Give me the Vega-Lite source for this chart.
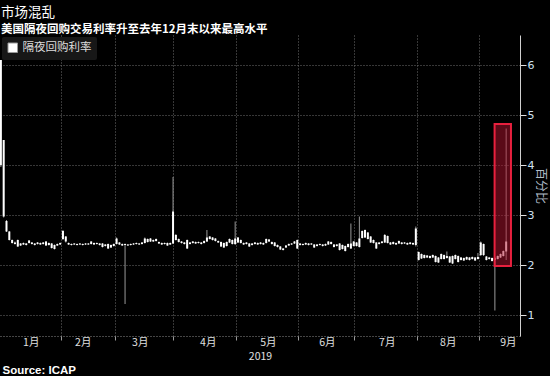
{
  "$schema": "https://vega.github.io/schema/vega-lite/v6.json",
  "width": 520,
  "height": 301,
  "autosize": "none",
  "padding": {"left": 0, "top": 35, "right": 30, "bottom": 40},
  "background": "#000000",
  "config": {"view": {"stroke": null}, "font": "Noto Sans CJK SC"},
  "title": {
    "text": "市场混乱",
    "subtitle": "美国隔夜回购交易利率升至去年12月末以来最高水平",
    "anchor": "start",
    "frame": "group",
    "font": "Noto Sans CJK SC",
    "fontSize": 13.5,
    "fontWeight": "normal",
    "color": "#ffffff",
    "subtitleFont": "Noto Sans CJK SC",
    "subtitleFontSize": 11.5,
    "subtitleFontWeight": "bold",
    "subtitleColor": "#ffffff",
    "subtitlePadding": 4,
    "offset": 0,
    "dx": 1
  },
  "data": {
    "values": [
      {"i":0,"o":4.0,"c":6.1,"h":6.1,"l":3.96},
      {"i":1,"o":4.5,"c":2.97,"h":4.5,"l":2.95},
      {"i":2,"o":2.88,"c":2.67,"h":2.9,"l":2.66},
      {"i":3,"o":2.67,"c":2.5,"h":2.68,"l":2.49},
      {"i":4,"o":2.5,"c":2.44,"h":2.51,"l":2.43},
      {"i":5,"o":2.45,"c":2.42,"h":2.47,"l":2.41},
      {"i":6,"o":2.5,"c":2.37,"h":2.51,"l":2.36},
      {"i":7,"o":2.43,"c":2.39,"h":2.44,"l":2.38},
      {"i":8,"o":2.41,"c":2.44,"h":2.45,"l":2.4},
      {"i":9,"o":2.43,"c":2.4,"h":2.44,"l":2.39},
      {"i":10,"o":2.44,"c":2.49,"h":2.5,"l":2.43},
      {"i":11,"o":2.45,"c":2.42,"h":2.46,"l":2.41},
      {"i":12,"o":2.43,"c":2.4,"h":2.44,"l":2.39},
      {"i":13,"o":2.42,"c":2.45,"h":2.46,"l":2.41},
      {"i":14,"o":2.44,"c":2.41,"h":2.45,"l":2.4},
      {"i":15,"o":2.42,"c":2.45,"h":2.46,"l":2.41},
      {"i":16,"o":2.39,"c":2.47,"h":2.48,"l":2.38},
      {"i":17,"o":2.44,"c":2.4,"h":2.45,"l":2.39},
      {"i":18,"o":2.43,"c":2.34,"h":2.44,"l":2.33},
      {"i":19,"o":2.4,"c":2.32,"h":2.41,"l":2.31},
      {"i":20,"o":2.39,"c":2.42,"h":2.43,"l":2.38},
      {"i":21,"o":2.41,"c":2.44,"h":2.45,"l":2.4},
      {"i":22,"o":2.52,"c":2.68,"h":2.7,"l":2.5},
      {"i":23,"o":2.57,"c":2.47,"h":2.58,"l":2.45},
      {"i":24,"o":2.44,"c":2.41,"h":2.45,"l":2.4},
      {"i":25,"o":2.42,"c":2.4,"h":2.43,"l":2.39},
      {"i":26,"o":2.41,"c":2.43,"h":2.44,"l":2.4},
      {"i":27,"o":2.42,"c":2.4,"h":2.43,"l":2.39},
      {"i":28,"o":2.41,"c":2.43,"h":2.44,"l":2.4},
      {"i":29,"o":2.42,"c":2.4,"h":2.43,"l":2.39},
      {"i":30,"o":2.41,"c":2.43,"h":2.44,"l":2.4},
      {"i":31,"o":2.43,"c":2.41,"h":2.44,"l":2.4},
      {"i":32,"o":2.42,"c":2.47,"h":2.48,"l":2.41},
      {"i":33,"o":2.44,"c":2.41,"h":2.45,"l":2.4},
      {"i":34,"o":2.42,"c":2.44,"h":2.45,"l":2.41},
      {"i":35,"o":2.43,"c":2.4,"h":2.44,"l":2.39},
      {"i":36,"o":2.43,"c":2.36,"h":2.44,"l":2.35},
      {"i":37,"o":2.41,"c":2.38,"h":2.42,"l":2.37},
      {"i":38,"o":2.42,"c":2.33,"h":2.43,"l":2.32},
      {"i":39,"o":2.4,"c":2.35,"h":2.41,"l":2.34},
      {"i":40,"o":2.38,"c":2.42,"h":2.43,"l":2.37},
      {"i":41,"o":2.42,"c":2.53,"h":2.55,"l":2.41},
      {"i":42,"o":2.45,"c":2.41,"h":2.46,"l":2.4},
      {"i":43,"o":2.42,"c":2.39,"h":2.43,"l":2.38},
      {"i":44,"o":2.4,"c":2.42,"h":2.43,"l":1.22},
      {"i":45,"o":2.41,"c":2.39,"h":2.42,"l":2.38},
      {"i":46,"o":2.4,"c":2.42,"h":2.43,"l":2.39},
      {"i":47,"o":2.41,"c":2.43,"h":2.44,"l":2.4},
      {"i":48,"o":2.42,"c":2.44,"h":2.45,"l":2.41},
      {"i":49,"o":2.43,"c":2.41,"h":2.44,"l":2.4},
      {"i":50,"o":2.42,"c":2.45,"h":2.46,"l":2.41},
      {"i":51,"o":2.44,"c":2.53,"h":2.55,"l":2.43},
      {"i":52,"o":2.52,"c":2.46,"h":2.53,"l":2.45},
      {"i":53,"o":2.47,"c":2.53,"h":2.54,"l":2.46},
      {"i":54,"o":2.5,"c":2.47,"h":2.51,"l":2.46},
      {"i":55,"o":2.48,"c":2.52,"h":2.53,"l":2.47},
      {"i":56,"o":2.46,"c":2.43,"h":2.47,"l":2.42},
      {"i":57,"o":2.44,"c":2.41,"h":2.45,"l":2.4},
      {"i":58,"o":2.42,"c":2.44,"h":2.45,"l":2.41},
      {"i":59,"o":2.44,"c":2.39,"h":2.45,"l":2.38},
      {"i":60,"o":2.41,"c":2.44,"h":2.45,"l":2.4},
      {"i":61,"o":2.43,"c":3.07,"h":3.76,"l":2.42},
      {"i":62,"o":2.6,"c":2.5,"h":2.62,"l":2.49},
      {"i":63,"o":2.52,"c":2.46,"h":2.53,"l":2.45},
      {"i":64,"o":2.47,"c":2.44,"h":2.48,"l":2.43},
      {"i":65,"o":2.45,"c":2.42,"h":2.46,"l":2.41},
      {"i":66,"o":2.5,"c":2.33,"h":2.51,"l":2.32},
      {"i":67,"o":2.42,"c":2.45,"h":2.46,"l":2.41},
      {"i":68,"o":2.44,"c":2.47,"h":2.48,"l":2.43},
      {"i":69,"o":2.46,"c":2.43,"h":2.47,"l":2.42},
      {"i":70,"o":2.44,"c":2.46,"h":2.47,"l":2.43},
      {"i":71,"o":2.45,"c":2.42,"h":2.46,"l":2.41},
      {"i":72,"o":2.44,"c":2.48,"h":2.49,"l":2.43},
      {"i":73,"o":2.47,"c":2.55,"h":2.7,"l":2.46},
      {"i":74,"o":2.52,"c":2.57,"h":2.58,"l":2.51},
      {"i":75,"o":2.55,"c":2.5,"h":2.56,"l":2.49},
      {"i":76,"o":2.53,"c":2.48,"h":2.54,"l":2.47},
      {"i":77,"o":2.48,"c":2.45,"h":2.49,"l":2.44},
      {"i":78,"o":2.46,"c":2.37,"h":2.47,"l":2.36},
      {"i":79,"o":2.44,"c":2.35,"h":2.45,"l":2.34},
      {"i":80,"o":2.38,"c":2.46,"h":2.47,"l":2.37},
      {"i":81,"o":2.45,"c":2.52,"h":2.53,"l":2.44},
      {"i":82,"o":2.5,"c":2.42,"h":2.51,"l":2.41},
      {"i":83,"o":2.42,"c":2.53,"h":2.87,"l":2.4},
      {"i":84,"o":2.55,"c":2.45,"h":2.56,"l":2.44},
      {"i":85,"o":2.5,"c":2.44,"h":2.51,"l":2.43},
      {"i":86,"o":2.44,"c":2.41,"h":2.45,"l":2.4},
      {"i":87,"o":2.42,"c":2.45,"h":2.46,"l":2.41},
      {"i":88,"o":2.43,"c":2.37,"h":2.44,"l":2.36},
      {"i":89,"o":2.4,"c":2.43,"h":2.44,"l":2.39},
      {"i":90,"o":2.42,"c":2.45,"h":2.46,"l":2.41},
      {"i":91,"o":2.44,"c":2.41,"h":2.45,"l":2.4},
      {"i":92,"o":2.42,"c":2.45,"h":2.46,"l":2.41},
      {"i":93,"o":2.44,"c":2.41,"h":2.45,"l":2.4},
      {"i":94,"o":2.44,"c":2.52,"h":2.53,"l":2.43},
      {"i":95,"o":2.51,"c":2.47,"h":2.52,"l":2.46},
      {"i":96,"o":2.46,"c":2.42,"h":2.47,"l":2.41},
      {"i":97,"o":2.45,"c":2.38,"h":2.46,"l":2.37},
      {"i":98,"o":2.4,"c":2.36,"h":2.41,"l":2.35},
      {"i":99,"o":2.37,"c":2.31,"h":2.38,"l":2.3},
      {"i":100,"o":2.33,"c":2.3,"h":2.34,"l":2.29},
      {"i":101,"o":2.35,"c":2.39,"h":2.4,"l":2.34},
      {"i":102,"o":2.39,"c":2.42,"h":2.43,"l":2.38},
      {"i":103,"o":2.41,"c":2.43,"h":2.44,"l":2.4},
      {"i":104,"o":2.43,"c":2.47,"h":2.48,"l":2.42},
      {"i":105,"o":2.5,"c":2.33,"h":2.51,"l":2.32},
      {"i":106,"o":2.4,"c":2.43,"h":2.44,"l":2.39},
      {"i":107,"o":2.42,"c":2.4,"h":2.43,"l":2.39},
      {"i":108,"o":2.41,"c":2.44,"h":2.45,"l":2.4},
      {"i":109,"o":2.43,"c":2.4,"h":2.44,"l":2.39},
      {"i":110,"o":2.41,"c":2.43,"h":2.44,"l":2.4},
      {"i":111,"o":2.41,"c":2.35,"h":2.42,"l":2.34},
      {"i":112,"o":2.38,"c":2.41,"h":2.42,"l":2.37},
      {"i":113,"o":2.4,"c":2.42,"h":2.43,"l":2.39},
      {"i":114,"o":2.41,"c":2.38,"h":2.42,"l":2.37},
      {"i":115,"o":2.39,"c":2.42,"h":2.43,"l":2.38},
      {"i":116,"o":2.41,"c":2.47,"h":2.48,"l":2.4},
      {"i":117,"o":2.46,"c":2.42,"h":2.47,"l":2.41},
      {"i":118,"o":2.41,"c":2.36,"h":2.42,"l":2.35},
      {"i":119,"o":2.38,"c":2.41,"h":2.42,"l":2.37},
      {"i":120,"o":2.43,"c":2.3,"h":2.44,"l":2.29},
      {"i":121,"o":2.4,"c":2.32,"h":2.41,"l":2.31},
      {"i":122,"o":2.38,"c":2.28,"h":2.39,"l":2.27},
      {"i":123,"o":2.36,"c":2.42,"h":2.43,"l":2.35},
      {"i":124,"o":2.43,"c":2.33,"h":2.83,"l":2.32},
      {"i":125,"o":2.38,"c":2.47,"h":2.48,"l":2.37},
      {"i":126,"o":2.45,"c":2.38,"h":2.46,"l":2.37},
      {"i":127,"o":2.36,"c":2.53,"h":2.97,"l":2.35},
      {"i":128,"o":2.54,"c":2.68,"h":2.69,"l":2.53},
      {"i":129,"o":2.7,"c":2.55,"h":2.71,"l":2.54},
      {"i":130,"o":2.65,"c":2.52,"h":2.66,"l":2.51},
      {"i":131,"o":2.57,"c":2.45,"h":2.58,"l":2.44},
      {"i":132,"o":2.5,"c":2.44,"h":2.51,"l":2.43},
      {"i":133,"o":2.45,"c":2.33,"h":2.46,"l":2.32},
      {"i":134,"o":2.42,"c":2.45,"h":2.46,"l":2.41},
      {"i":135,"o":2.44,"c":2.47,"h":2.48,"l":2.43},
      {"i":136,"o":2.45,"c":2.6,"h":2.62,"l":2.44},
      {"i":137,"o":2.58,"c":2.44,"h":2.59,"l":2.43},
      {"i":138,"o":2.45,"c":2.41,"h":2.46,"l":2.4},
      {"i":139,"o":2.42,"c":2.46,"h":2.47,"l":2.41},
      {"i":140,"o":2.44,"c":2.41,"h":2.45,"l":2.4},
      {"i":141,"o":2.43,"c":2.48,"h":2.49,"l":2.42},
      {"i":142,"o":2.45,"c":2.42,"h":2.46,"l":2.41},
      {"i":143,"o":2.43,"c":2.45,"h":2.46,"l":2.42},
      {"i":144,"o":2.44,"c":2.41,"h":2.45,"l":2.4},
      {"i":145,"o":2.42,"c":2.45,"h":2.46,"l":2.41},
      {"i":146,"o":2.44,"c":2.41,"h":2.45,"l":2.4},
      {"i":147,"o":2.4,"c":2.73,"h":2.77,"l":2.37},
      {"i":148,"o":2.26,"c":2.1,"h":2.27,"l":2.09},
      {"i":149,"o":2.13,"c":2.22,"h":2.23,"l":2.12},
      {"i":150,"o":2.2,"c":2.14,"h":2.21,"l":2.13},
      {"i":151,"o":2.15,"c":2.19,"h":2.2,"l":2.14},
      {"i":152,"o":2.18,"c":2.14,"h":2.19,"l":2.13},
      {"i":153,"o":2.15,"c":2.2,"h":2.21,"l":2.14},
      {"i":154,"o":2.18,"c":2.06,"h":2.19,"l":2.05},
      {"i":155,"o":2.15,"c":2.05,"h":2.16,"l":2.04},
      {"i":156,"o":2.12,"c":2.22,"h":2.23,"l":2.11},
      {"i":157,"o":2.2,"c":2.12,"h":2.21,"l":2.11},
      {"i":158,"o":2.14,"c":2.18,"h":2.27,"l":2.13},
      {"i":159,"o":2.17,"c":2.05,"h":2.18,"l":2.04},
      {"i":160,"o":2.18,"c":2.03,"h":2.19,"l":2.02},
      {"i":161,"o":2.12,"c":2.2,"h":2.21,"l":2.11},
      {"i":162,"o":2.18,"c":2.06,"h":2.19,"l":2.05},
      {"i":163,"o":2.1,"c":2.15,"h":2.16,"l":2.09},
      {"i":164,"o":2.14,"c":2.09,"h":2.15,"l":2.08},
      {"i":165,"o":2.11,"c":2.16,"h":2.17,"l":2.1},
      {"i":166,"o":2.15,"c":2.1,"h":2.16,"l":2.09},
      {"i":167,"o":2.12,"c":2.16,"h":2.17,"l":2.11},
      {"i":168,"o":2.15,"c":2.09,"h":2.16,"l":2.08},
      {"i":169,"o":2.12,"c":2.16,"h":2.24,"l":2.11},
      {"i":170,"o":2.2,"c":2.45,"h":2.47,"l":2.18},
      {"i":171,"o":2.42,"c":2.2,"h":2.43,"l":2.18},
      {"i":172,"o":2.17,"c":2.1,"h":2.18,"l":2.09},
      {"i":173,"o":2.12,"c":2.15,"h":2.16,"l":2.11},
      {"i":174,"o":2.14,"c":2.08,"h":2.15,"l":2.07},
      {"i":175,"o":2.1,"c":2.14,"h":2.16,"l":1.09},
      {"i":176,"o":2.12,"c":2.18,"h":2.19,"l":2.11},
      {"i":177,"o":2.15,"c":2.22,"h":2.23,"l":2.14},
      {"i":178,"o":2.18,"c":2.28,"h":2.29,"l":2.17},
      {"i":179,"o":2.27,"c":2.47,"h":4.73,"l":2.1}
    ]
  },
  "resolve": {"axis": {"x": "independent"}},
  "layer": [
    {
      "mark": {"type": "rule", "stroke": "#9a9a9a", "strokeWidth": 1, "clip": true},
      "encoding": {
        "x": {
          "field": "i", "type": "quantitative",
          "scale": {"domain": [-0.3, 183.9], "nice": false, "zero": false, "padding": 0},
          "axis": {
            "orient": "bottom",
            "values": [21.25, 40.4, 60.9, 83.2, 105.2, 125.0, 147.4, 169.3],
            "labels": false, "grid": true, "gridColor": "#6e6e6e", "gridDash": [1, 2], "gridWidth": 1,
            "ticks": true, "tickSize": 4, "tickColor": "#9a9a9a",
            "domain": true, "domainColor": "#8a8a8a", "domainDash": [1, 2],
            "title": null
          }
        },
        "y": {
          "field": "l", "type": "quantitative",
          "scale": {"domain": [0.58, 6.6], "nice": false, "zero": false},
          "axis": {
            "orient": "right",
            "values": [1, 1.5, 2, 2.5, 3, 3.5, 4, 4.5, 5, 5.5, 6],
            "labelExpr": "datum.value % 1 === 0 ? datum.label : ''",
            "tickSize": {"condition": {"test": "datum.value % 1 !== 0", "value": 3}, "value": 6},
            "gridOpacity": {"condition": {"test": "datum.value % 1 !== 0", "value": 0}, "value": 1},
            "grid": true, "gridColor": "#6e6e6e", "gridDash": [1, 2],
            "domain": true, "domainColor": "#d0d0d0", "ticks": true, "tickColor": "#e0e0e0",
            "labelColor": "#cfe0f0", "labelFont": "DejaVu Sans", "labelFontSize": 11, "labelPadding": 1,
            "title": "百分比", "titleFont": "Noto Sans CJK SC", "titleFontSize": 12, "titleFontWeight": "normal",
            "titleColor": "#b0bcc8", "titlePadding": 0
          }
        },
        "y2": {"field": "h"}
      }
    },
    {
      "mark": {"type": "bar", "size": 2, "clip": true},
      "encoding": {
        "x": {
          "field": "i", "type": "quantitative",
          "scale": {"domain": [-0.3, 183.9], "nice": false, "zero": false, "padding": 0},
          "axis": {
            "orient": "bottom",
            "values": [10.6, 29, 49.2, 73.3, 94.6, 115.5, 136.7, 158.3, 179.6],
            "labelExpr": "(indexof([10.6, 29, 49.2, 73.3, 94.6, 115.5, 136.7, 158.3, 179.6], datum.value) + 1) + '月'",
            "grid": false, "ticks": false, "domain": false,
            "labelPadding": 1, "labelFont": "Noto Sans CJK SC", "labelFontSize": 10.5, "labelColor": "#e0e0e0",
            "labelFlush": false, "labelOverlap": false,
            "title": "2019", "titleFont": "Noto Sans CJK SC", "titleFontWeight": "normal", "titleFontSize": 10.5,
            "titleColor": "#e0e0e0", "titlePadding": 4
          }
        },
        "y": {"field": "o", "type": "quantitative", "scale": {"domain": [0.58, 6.6], "nice": false, "zero": false}},
        "y2": {"field": "c"},
        "color": {
          "datum": "隔夜回购利率", "type": "nominal",
          "scale": {"range": ["#ffffff"]},
          "legend": {
            "orient": "top-left", "offset": 2, "title": null,
            "fillColor": "#171717", "padding": 5, "cornerRadius": 2,
            "symbolType": "square", "symbolSize": 90, "symbolStrokeColor": "#999999", "symbolStrokeWidth": 1,
            "labelFont": "Noto Sans CJK SC", "labelFontSize": 11.5, "labelColor": "#dcdcdc"
          }
        }
      }
    },
    {
      "data": {"values": [{"x1": 174.9, "x2": 180.7, "y1": 1.98, "y2": 4.82}]},
      "mark": {"type": "rect", "fill": "#b4132f", "fillOpacity": 0.5, "stroke": "#e8203e", "strokeWidth": 2},
      "encoding": {
        "x": {
          "field": "x1", "type": "quantitative",
          "scale": {"domain": [-0.3, 183.9], "nice": false, "zero": false, "padding": 0},
          "axis": {
            "orient": "bottom", "values": [], "labels": false, "ticks": false, "domain": false, "grid": false,
            "title": "Source: ICAP", "titleX": 2, "titleY": 37, "titleAnchor": "start", "titleAlign": "left",
            "titleBaseline": "alphabetic", "titleFont": "Liberation Sans", "titleFontSize": 11.5,
            "titleFontWeight": "bold", "titleColor": "#ffffff"
          }
        },
        "x2": {"field": "x2"},
        "y": {"field": "y1", "type": "quantitative", "scale": {"domain": [0.58, 6.6], "nice": false, "zero": false}},
        "y2": {"field": "y2"}
      }
    }
  ]
}
